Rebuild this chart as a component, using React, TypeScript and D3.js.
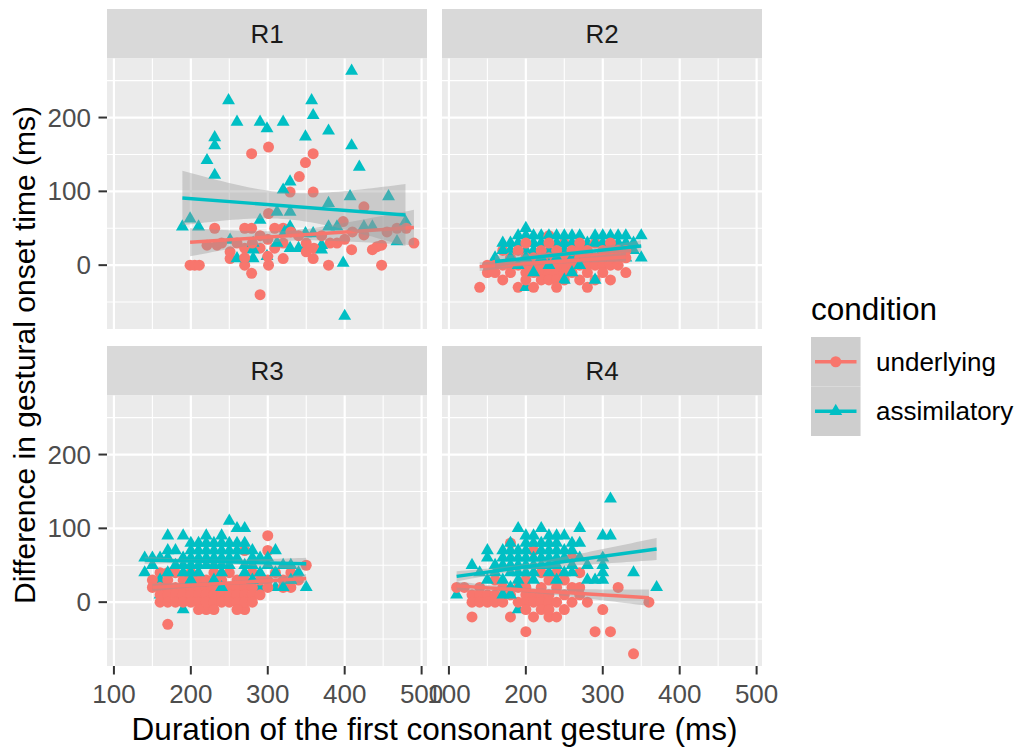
import * as d3 from "d3";

type Pt = [number, number];

const W = 1021;
const H = 748;
const FONT = "'Liberation Sans', Arial, sans-serif";

const panelNames = ["R1", "R2", "R3", "R4"];
const conditionNames = ["underlying", "assimilatory"];
const conditionColors = ["#F8766D", "#00BFC4"];
const xTicks = [100, 200, 300, 400, 500];
const xMinor = [150, 250, 350, 450];
const yTicks = [0, 100, 200];
const yMinor = [-50, 50, 150, 250];

// R1
const r1Underlying: Pt[] = [
  [301, 160], [279, 151], [359, 151], [349, 139], [341, 120], [329, 99], [359, 99], [425, 79],
  [301, 70], [398, 59], [231, 50], [270, 50], [279, 50], [309, 50], [320, 50], [425, 41],
  [468, 50], [221, 27], [234, 27], [270, 23], [290, 23], [309, 23], [320, 30], [381, 30],
  [390, 30], [442, 25], [448, 27], [490, 30], [409, 21], [436, 21], [251, 9], [359, 9],
  [320, 9], [199, 0], [205, 0], [211, 0], [270, 0], [301, 0], [379, 0], [448, 0],
  [279, -11], [290, -40], [251, 18], [350, 18], [360, 23], [260, 30], [300, 35], [340, 40],
  [330, 45], [370, 40], [410, 45], [455, 45], [480, 50], [290, 40], [240, 30], [280, 30],
  [350, 30], [400, 35], [270, 10], [300, 12],
];
const r1Assim: Pt[] = [
  [409, 263], [249, 223], [357, 223], [359, 203], [260, 194], [290, 194], [299, 185], [320, 194],
  [349, 174], [379, 182], [231, 173], [231, 162], [409, 162], [221, 142], [419, 133], [231, 122],
  [329, 113], [320, 102], [407, 93], [457, 93], [379, 84], [312, 72], [329, 72], [290, 61],
  [189, 52], [199, 63], [210, 52], [329, 52], [322, 45], [359, 43], [379, 52], [390, 52],
  [425, 52], [436, 52], [479, 59], [349, 43], [251, 34], [281, 30], [281, 21], [312, 30],
  [329, 23], [340, 23], [349, 23], [370, 27], [370, 21], [468, 32], [260, 9], [281, 9],
  [299, 12], [398, 3], [400, -69],
];

// R2
const r2Underlying: Pt[] = [
  [140, -30], [190, -30], [280, -30], [310, -20], [330, -10], [150, -10], [170, 20], [230, 40],
  [250, 30], [290, 30], [270, -20], [150, 0], [160, 0], [170, 0], [180, 0], [190, 0],
  [200, 0], [210, 0], [220, 0], [230, 0], [240, 0], [250, 0], [260, 0], [270, 0],
  [280, 0], [290, 0], [300, 0], [310, 0], [320, 0], [160, -10], [180, -10], [200, -10],
  [210, -10], [220, -10], [230, -10], [240, -10], [250, -10], [260, -10], [280, -10], [300, -10],
  [170, -20], [200, -20], [220, -20], [230, -20], [240, -20], [250, -20], [290, -20], [180, 10],
  [200, 10], [210, 10], [220, 10], [230, 10], [240, 10], [250, 10], [260, 10], [270, 10],
  [280, 10], [290, 10], [300, 10], [310, 10], [320, 10], [330, 10], [190, 20], [220, 20],
  [240, 20], [260, 20], [270, 20], [280, 20], [300, 20], [310, 20], [320, 20], [330, 20],
  [200, 30], [230, 30], [270, 30], [310, 30], [210, -30], [240, -30],
];
const r2Assim: Pt[] = [
  [200, 50], [220, 40], [260, 40], [310, 40], [350, 40], [280, 30], [320, 30], [180, 30],
  [160, 10], [350, 10], [200, -30], [190, 40], [200, 40], [210, 40], [230, 40], [240, 40],
  [250, 40], [270, 40], [290, 40], [300, 40], [320, 40], [330, 40], [170, 30], [190, 30],
  [200, 30], [210, 30], [220, 30], [230, 30], [240, 30], [250, 30], [260, 30], [270, 30],
  [290, 30], [300, 30], [310, 30], [330, 30], [340, 30], [170, 20], [180, 20], [190, 20],
  [200, 20], [210, 20], [230, 20], [250, 20], [260, 20], [270, 20], [280, 20], [300, 20],
  [320, 20], [340, 20], [180, 10], [200, 10], [220, 10], [240, 10], [260, 10], [280, 10],
  [300, 10], [330, 10], [190, 0], [230, 0], [270, 0], [210, -10], [260, -10], [250, -20],
  [290, -20],
];

// R3
const r3Underlying: Pt[] = [
  [300, 90], [300, 70], [270, 70], [170, -30], [350, 50], [220, -10], [270, -10], [160, 0],
  [170, 40], [160, 40], [180, 40], [200, 40], [230, 40], [250, 40], [280, 40], [310, 40],
  [330, 40], [150, 30], [170, 30], [190, 30], [200, 30], [210, 30], [220, 30], [240, 30],
  [260, 30], [270, 30], [290, 30], [300, 30], [320, 30], [340, 30], [150, 20], [160, 20],
  [170, 20], [180, 20], [190, 20], [200, 20], [210, 20], [220, 20], [230, 20], [240, 20],
  [250, 20], [260, 20], [270, 20], [280, 20], [300, 20], [330, 20], [160, 10], [170, 10],
  [180, 10], [190, 10], [200, 10], [210, 10], [220, 10], [230, 10], [240, 10], [250, 10],
  [260, 10], [270, 10], [280, 10], [290, 10], [170, 0], [180, 0], [190, 0], [200, 0],
  [210, 0], [220, 0], [230, 0], [240, 0], [250, 0], [260, 0], [270, 0], [280, 0],
  [210, -10], [230, -10], [260, -10], [320, 20],
];
const r3Assim: Pt[] = [
  [250, 110], [260, 100], [270, 100], [170, 90], [190, 90], [220, 90], [240, 90], [200, 80],
  [210, 80], [250, 80], [260, 80], [310, 70], [140, 60], [150, 60], [170, 70], [140, 40],
  [160, 30], [160, 10], [190, -10], [350, 20], [310, 20], [290, 20], [260, 20], [220, 80],
  [230, 80], [240, 80], [270, 80], [180, 70], [200, 70], [210, 70], [220, 70], [230, 70],
  [240, 70], [250, 70], [260, 70], [270, 70], [280, 70], [160, 60], [170, 60], [190, 60],
  [200, 60], [210, 60], [220, 60], [230, 60], [240, 60], [250, 60], [260, 60], [280, 60],
  [290, 60], [300, 60], [150, 50], [180, 50], [190, 50], [200, 50], [210, 50], [220, 50],
  [230, 50], [240, 50], [250, 50], [270, 50], [280, 50], [300, 50], [320, 50], [330, 50],
  [170, 40], [190, 40], [200, 40], [210, 40], [240, 40], [270, 40], [290, 40], [310, 40],
  [340, 40], [200, 30], [230, 30], [280, 30], [330, 30], [240, 20], [320, 20],
];

// R4
const r4Underlying: Pt[] = [
  [340, -70], [200, -40], [290, -40], [310, -40], [130, -20], [180, -20], [210, -20], [230, -20],
  [240, -20], [250, -10], [300, -10], [360, 0], [320, 20], [280, 0], [180, 80], [260, 60],
  [270, 40], [110, 20], [210, 70], [220, 40], [240, 40], [160, 30], [200, 30], [230, 30],
  [250, 30], [120, 20], [140, 20], [170, 20], [190, 20], [200, 20], [220, 20], [240, 20],
  [260, 20], [270, 20], [130, 10], [140, 10], [150, 10], [160, 10], [180, 10], [200, 10],
  [210, 10], [220, 10], [230, 10], [250, 10], [270, 10], [130, 0], [140, 0], [150, 0],
  [160, 0], [170, 0], [190, 0], [200, 0], [210, 0], [220, 0], [230, 0], [240, 0],
  [260, 0], [200, -10], [220, -10], [230, -10],
];
const r4Assim: Pt[] = [
  [310, 140], [300, 90], [310, 90], [270, 100], [190, 100], [220, 100], [250, 90], [150, 70],
  [170, 70], [340, 40], [370, 20], [110, 10], [190, -10], [210, 0], [300, 60], [300, 50],
  [300, 40], [300, 30], [200, 90], [210, 90], [230, 90], [240, 90], [180, 80], [200, 80],
  [210, 80], [220, 80], [230, 80], [240, 80], [260, 80], [270, 80], [180, 70], [190, 70],
  [200, 70], [220, 70], [230, 70], [240, 70], [250, 70], [260, 70], [150, 60], [170, 60],
  [180, 60], [190, 60], [200, 60], [210, 60], [220, 60], [230, 60], [240, 60], [250, 60],
  [270, 60], [130, 50], [160, 50], [170, 50], [180, 50], [190, 50], [200, 50], [210, 50],
  [220, 50], [230, 50], [240, 50], [260, 50], [280, 50], [140, 40], [160, 40], [180, 40],
  [190, 40], [200, 40], [210, 40], [230, 40], [250, 40], [260, 40], [150, 30], [170, 30],
  [190, 30], [210, 30], [240, 30], [280, 30], [290, 30], [180, 20], [190, 20], [170, 10],
  [180, 10],
];

const underlyingByPanel = [r1Underlying, r2Underlying, r3Underlying, r4Underlying];
const assimByPanel = [r1Assim, r2Assim, r3Assim, r4Assim];

// linear fit: [y at min x, y at max x, ci half-width left, min, right]
const fitUnderlying = [
  [31, 51, 19, 7, 24],
  [-2, 11, 6, 3, 6],
  [20, 32, 5, 2.5, 6],
  [22, 6, 6, 3, 11],
];
const fitAssim = [
  [91, 68, 37, 18, 42],
  [5, 26, 8, 3, 8],
  [57, 52, 5, 2.5, 8],
  [35, 72, 7, 4, 15],
];

// layout
const colLeft = [107, 442];
const panelW = 320;
const stripTop = [9, 346];
const stripH = 49.5;
const panelH = 270.5;
const PT_R = 5.5;

const triPath = d3.symbol().type(d3.symbolTriangle).size(72)()!;

function ciFn(x0: number, x1: number, hl: number, hm: number, hr: number) {
  const a = Math.sqrt(Math.max(hl * hl - hm * hm, 0));
  const b = Math.sqrt(Math.max(hr * hr - hm * hm, 0));
  const xc = a + b > 0 ? x0 + ((x1 - x0) * a) / (a + b) : (x0 + x1) / 2;
  const k = xc > x0 ? (a / (xc - x0)) ** 2 : xc < x1 ? (b / (x1 - xc)) ** 2 : 0;
  return (x: number) => Math.sqrt(hm * hm + k * (x - xc) ** 2);
}

function Panel({ idx }: { idx: number }) {
  const col = idx % 2;
  const row = Math.floor(idx / 2);
  const left = colLeft[col];
  const top = stripTop[row] + stripH;
  const bottom = top + panelH;
  const x = d3.scaleLinear().domain([91, 507]).range([left, left + panelW]);
  const y = d3.scaleLinear().domain([-86.5, 280]).range([bottom, top]);

  const und = underlyingByPanel[idx];
  const ass = assimByPanel[idx];
  // interleave the two groups so neither one sits entirely on top
  const mixed: { p: Pt; c: number }[] = [];
  const n = Math.max(und.length, ass.length);
  for (let i = 0; i < n; i++) {
    if (i < und.length) mixed.push({ p: und[i], c: 0 });
    if (i < ass.length) mixed.push({ p: ass[i], c: 1 });
  }

  const fits = [
    { data: und, f: fitUnderlying[idx], c: 0 },
    { data: ass, f: fitAssim[idx], c: 1 },
  ].map(({ data, f, c }) => {
    const [x0, x1] = d3.extent(data, (d) => d[0]) as [number, number];
    const line = d3.scaleLinear().domain([x0, x1]).range([f[0], f[1]]);
    const hw = ciFn(x0, x1, f[2], f[3], f[4]);
    const xs = d3.range(0, 41).map((i) => x0 + ((x1 - x0) * i) / 40);
    const area = d3
      .area<number>()
      .x((v) => x(v))
      .y0((v) => y(line(v) - hw(v)))
      .y1((v) => y(line(v) + hw(v)))(xs);
    const path = d3
      .line<number>()
      .x((v) => x(v))
      .y((v) => y(line(v)))([x0, x1]);
    return { area, path, c };
  });

  return (
    <g>
      <rect x={left} y={stripTop[row]} width={panelW} height={stripH} fill="#D9D9D9" />
      <text
        x={left + panelW / 2}
        y={stripTop[row] + stripH / 2}
        textAnchor="middle"
        dominantBaseline="central"
        fontSize={26}
        fill="#1A1A1A"
      >
        {panelNames[idx]}
      </text>
      <rect x={left} y={top} width={panelW} height={panelH} fill="#EBEBEB" />
      {yMinor.map((v) => (
        <line key={"ym" + v} x1={left} x2={left + panelW} y1={y(v)} y2={y(v)} stroke="#fff" strokeWidth={1.1} />
      ))}
      {xMinor.map((v) => (
        <line key={"xm" + v} x1={x(v)} x2={x(v)} y1={top} y2={bottom} stroke="#fff" strokeWidth={1.1} />
      ))}
      {yTicks.map((v) => (
        <line key={"yM" + v} x1={left} x2={left + panelW} y1={y(v)} y2={y(v)} stroke="#fff" strokeWidth={2.2} />
      ))}
      {xTicks.map((v) => (
        <line key={"xM" + v} x1={x(v)} x2={x(v)} y1={top} y2={bottom} stroke="#fff" strokeWidth={2.2} />
      ))}
      {mixed.map((d, i) =>
        d.c === 0 ? (
          <circle key={i} cx={x(d.p[0])} cy={y(d.p[1])} r={PT_R} fill={conditionColors[0]} />
        ) : (
          <path
            key={i}
            d={triPath}
            transform={`translate(${x(d.p[0])},${y(d.p[1])})`}
            fill={conditionColors[1]}
          />
        )
      )}
      {fits.map((f) => (
        <g key={"fit" + f.c}>
          <path d={f.area!} fill="#999999" fillOpacity={0.4} />
          <path d={f.path!} stroke={conditionColors[f.c]} strokeWidth={3.4} fill="none" />
        </g>
      ))}
      {col === 0 &&
        yTicks.map((v) => (
          <g key={"yt" + v}>
            <line x1={left - 8.5} x2={left} y1={y(v)} y2={y(v)} stroke="#333333" strokeWidth={2} />
            <text
              x={left - 16}
              y={y(v)}
              textAnchor="end"
              dominantBaseline="central"
              fontSize={26}
              fill="#4D4D4D"
            >
              {v}
            </text>
          </g>
        ))}
      {row === 1 &&
        xTicks.map((v) => (
          <g key={"xt" + v}>
            <line x1={x(v)} x2={x(v)} y1={bottom} y2={bottom + 8.5} stroke="#333333" strokeWidth={2} />
            <text x={x(v)} y={bottom + 37} textAnchor="middle" fontSize={26} fill="#4D4D4D">
              {v}
            </text>
          </g>
        ))}
    </g>
  );
}

function Legend() {
  const kx = 811;
  const ky = 337;
  const ks = 49.5;
  return (
    <g>
      <text x={kx} y={320} fontSize={31.5} fill="#000">
        condition
      </text>
      {conditionNames.map((name, i) => {
        const cy = ky + ks * i + ks / 2;
        return (
          <g key={name}>
            <rect x={kx} y={ky + ks * i} width={ks} height={ks} fill="#F2F2F2" />
            <rect x={kx} y={ky + ks * i} width={ks} height={ks} fill="#999999" fillOpacity={0.4} />
            <line x1={kx + 4} x2={kx + ks - 4} y1={cy} y2={cy} stroke={conditionColors[i]} strokeWidth={3.4} />
            {i === 0 ? (
              <circle cx={kx + ks / 2} cy={cy} r={PT_R} fill={conditionColors[i]} />
            ) : (
              <path d={triPath} transform={`translate(${kx + ks / 2},${cy})`} fill={conditionColors[i]} />
            )}
            <text x={kx + 65} y={cy} dominantBaseline="central" fontSize={26} fill="#000">
              {name}
            </text>
          </g>
        );
      })}
    </g>
  );
}

export default function App() {
  return (
    <div style={{ position: "absolute", left: 0, top: 0 }}>
      <svg width={W} height={H} style={{ display: "block", background: "#fff", fontFamily: FONT }}>
        {panelNames.map((_, i) => (
          <Panel key={i} idx={i} />
        ))}
        <text
          transform="translate(35,355) rotate(-90)"
          textAnchor="middle"
          fontSize={30}
          fill="#000"
        >
          Difference in gestural onset time (ms)
        </text>
        <text x={(colLeft[0] + colLeft[1] + panelW) / 2} y={740} textAnchor="middle" fontSize={31.5} fill="#000">
          Duration of the first consonant gesture (ms)
        </text>
        <Legend />
      </svg>
    </div>
  );
}
